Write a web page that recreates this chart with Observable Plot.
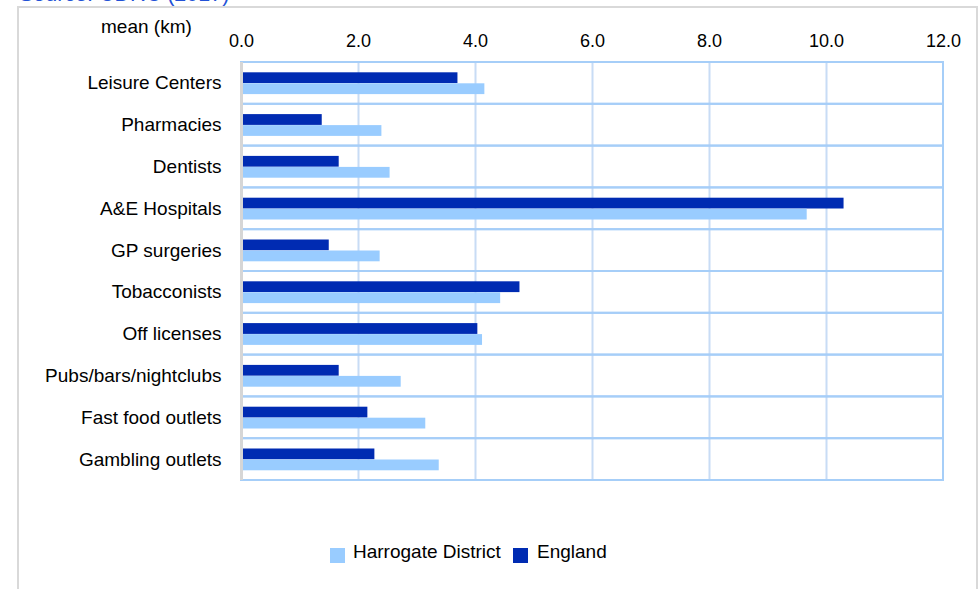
<!DOCTYPE html>
<html>
<head>
<meta charset="utf-8">
<script src="https://cdn.jsdelivr.net/npm/d3@7"></script>
<script src="https://cdn.jsdelivr.net/npm/@observablehq/plot@0.6"></script>
<style>
  html, body { margin: 0; padding: 0; background: #fff; width: 980px; height: 589px; overflow: hidden; }
  body { position: relative; font-family: "Liberation Sans", Arial, sans-serif; color: #000; }
  #source { position: absolute; left: 19px; top: -16px; font-size: 21.5px; line-height: 21.5px; color: #2251d6; white-space: nowrap; }
  #box { position: absolute; left: 17px; top: 6px; width: 957px; height: 620px; border: 2px solid #d9d9d9; }
  #chart { position: absolute; left: 0; top: 0; }
  .lbl { position: absolute; font-size: 19px; line-height: 19px; white-space: nowrap; }
  .sw { position: absolute; width: 15px; height: 15px; }
</style>
</head>
<body>
<div id="source">Source: CDRC (2017)</div>
<div id="box"></div>
<div id="chart"></div>
<div class="lbl" style="left:101px; top:17px;">mean (km)</div>
<div id="legend"></div>
<script>
// Data
const categories = ["Leisure Centers", "Pharmacies", "Dentists", "A&E Hospitals", "GP surgeries",
  "Tobacconists", "Off licenses", "Pubs/bars/nightclubs", "Fast food outlets", "Gambling outlets"];
const harrogate = [4.16, 2.40, 2.54, 9.67, 2.37, 4.43, 4.12, 2.73, 3.15, 3.38];
const england   = [3.70, 1.38, 1.67, 10.30, 1.50, 4.76, 4.04, 1.67, 2.16, 2.28];
const xTicks = [0, 2, 4, 6, 8, 10, 12];
const gridTicks = [2, 4, 6, 8, 10];
const xDomain = [0, 12];
const seriesNames = ["Harrogate District", "England"];
const seriesColors = ["#99CCFF", "#002BB2"];

const rowsH = categories.map((c, i) => ({category: c, value: harrogate[i]}));
const rowsE = categories.map((c, i) => ({category: c, value: england[i]}));

const chart = Plot.plot({
  width: 980,
  height: 500,
  marginLeft: 241,
  marginRight: 37,
  marginTop: 62,
  marginBottom: 20,
  style: {fontFamily: "Liberation Sans, Arial, sans-serif", fontSize: "19px", color: "#000", background: "transparent", overflow: "visible"},
  x: {domain: xDomain},
  y: {domain: categories, padding: 0, round: false},
  marks: [
    Plot.gridX(gridTicks, {stroke: "#C8DCF5", strokeOpacity: 1, strokeWidth: 2}),
    Plot.barX(categories, {x1: xDomain[0], x2: xDomain[1], y: d => d, fill: "none", stroke: "#A6CEF8", strokeWidth: 2}),
    Plot.barX(rowsE, {x: "value", y: "category", fill: seriesColors[1], insetTop: 10.3, insetBottom: 20.7}),
    Plot.barX(rowsH, {x: "value", y: "category", fill: seriesColors[0], insetTop: 21.3, insetBottom: 9.7}),
    Plot.ruleX([xDomain[0]], {stroke: "#d6d6d6", strokeWidth: 3}),
    Plot.axisX(xTicks, {anchor: "top", tickSize: 0, tickPadding: 16, tickFormat: d3.format(".1f"), label: null, fontSize: 18, fill: "#000"}),
    Plot.axisY({tickSize: 0, tickPadding: 20, label: null, fontSize: 19, fill: "#000"})
  ]
});
document.getElementById("chart").appendChild(chart);

// Legend
const legend = document.getElementById("legend");
const legendPos = [{sw: 330, tx: 353}, {sw: 513, tx: 537}];
seriesNames.forEach((name, i) => {
  const s = document.createElement("div");
  s.className = "sw";
  s.style.left = legendPos[i].sw + "px";
  s.style.top = "548px";
  s.style.background = seriesColors[i];
  legend.appendChild(s);
  const t = document.createElement("div");
  t.className = "lbl";
  t.style.left = legendPos[i].tx + "px";
  t.style.top = "542px";
  t.textContent = name;
  legend.appendChild(t);
});
</script>
</body>
</html>
